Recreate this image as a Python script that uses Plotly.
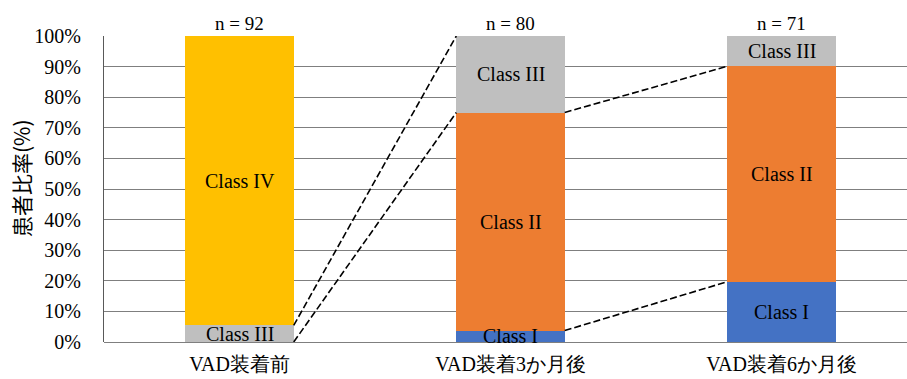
import plotly.graph_objects as go

# Period categories and sample sizes
periods = ["VAD装着前", "VAD装着3か月後", "VAD装着6か月後"]
n_counts = [92, 80, 71]

# NYHA class share per period (%), stacked bottom to top
class_names = ["Class I", "Class II", "Class III", "Class IV"]
class_i = [0.0, 3.75, 19.7]
class_ii = [0.0, 71.25, 70.4]
class_iii = [5.4, 25.0, 9.9]
class_iv = [94.6, 0.0, 0.0]
class_colors = ["#4472C4", "#ED7D31", "#BFBFBF", "#FFC000"]

# Dashed connectors: (left bar index, class whose top edge is joined to the next bar)
connectors = [(0, "Class II"), (0, "Class III"), (1, "Class I"), (1, "Class II")]

serif = "Liberation Serif, Times New Roman, serif"
bar_width = 0.4
series = [class_i, class_ii, class_iii, class_iv]
xs = list(range(len(periods)))

fig = go.Figure()
for name, vals, col in zip(class_names, series, class_colors):
    fig.add_trace(go.Bar(
        x=xs, y=vals, name=name, width=bar_width,
        marker=dict(color=col, line=dict(width=0)),
        hoverinfo="y+name",
    ))

# cumulative tops per bar
tops = []
for i in xs:
    acc, row = 0.0, {}
    for name, vals in zip(class_names, series):
        acc += vals[i]
        row[name] = acc
    tops.append(row)

for left, cname in connectors:
    fig.add_trace(go.Scatter(
        x=[left + bar_width / 2, left + 1 - bar_width / 2],
        y=[tops[left][cname], tops[left + 1][cname]],
        mode="lines", line=dict(color="black", width=1.6, dash="7px,3px"),
        hoverinfo="skip", showlegend=False,
    ))

annotations = []
# segment labels
for i in xs:
    base = 0.0
    for name, vals in zip(class_names, series):
        v = vals[i]
        if v > 0:
            annotations.append(dict(
                x=i, y=base + v / 2, xref="x", yref="y", text=name,
                showarrow=False, font=dict(family=serif, size=20, color="black"),
            ))
        base += v
# sample sizes above bars
for i, n in zip(xs, n_counts):
    annotations.append(dict(
        x=i, y=100, xref="x", yref="y", text=f"n = {n}", yanchor="bottom",
        showarrow=False, yshift=0, font=dict(family=serif, size=19, color="black"),
    ))
# y-axis title
annotations.append(dict(
    x=0, y=0.5, xref="paper", yref="paper", text="患者比率(%)", textangle=-90,
    showarrow=False, xanchor="center", yanchor="middle", xshift=-83, yshift=11,
    font=dict(family="Noto Sans CJK JP", size=21, color="black"),
))

fig.update_layout(
    width=907, height=379,
    margin=dict(l=104, r=0, t=36, b=37),
    paper_bgcolor="white", plot_bgcolor="white",
    barmode="stack", showlegend=False,
    annotations=annotations,
)
fig.update_xaxes(
    range=[-0.5, -0.5 + 803 / 271], tickvals=xs, ticktext=periods,
    showgrid=False, zeroline=False, showline=False, ticks="",
    tickfont=dict(family=serif, size=20, color="black"), ticklabelstandoff=8,
)
fig.update_yaxes(
    range=[0, 100], dtick=10, ticksuffix="%",
    showgrid=True, gridcolor="#7F7F7F", gridwidth=1,
    zeroline=True, zerolinecolor="#7F7F7F", zerolinewidth=1,
    showline=True, linecolor="#595959", linewidth=1, mirror=False,
    ticks="", ticklabelstandoff=18,
    tickfont=dict(family=serif, size=20, color="black"),
)

fig.write_html("out.html")
